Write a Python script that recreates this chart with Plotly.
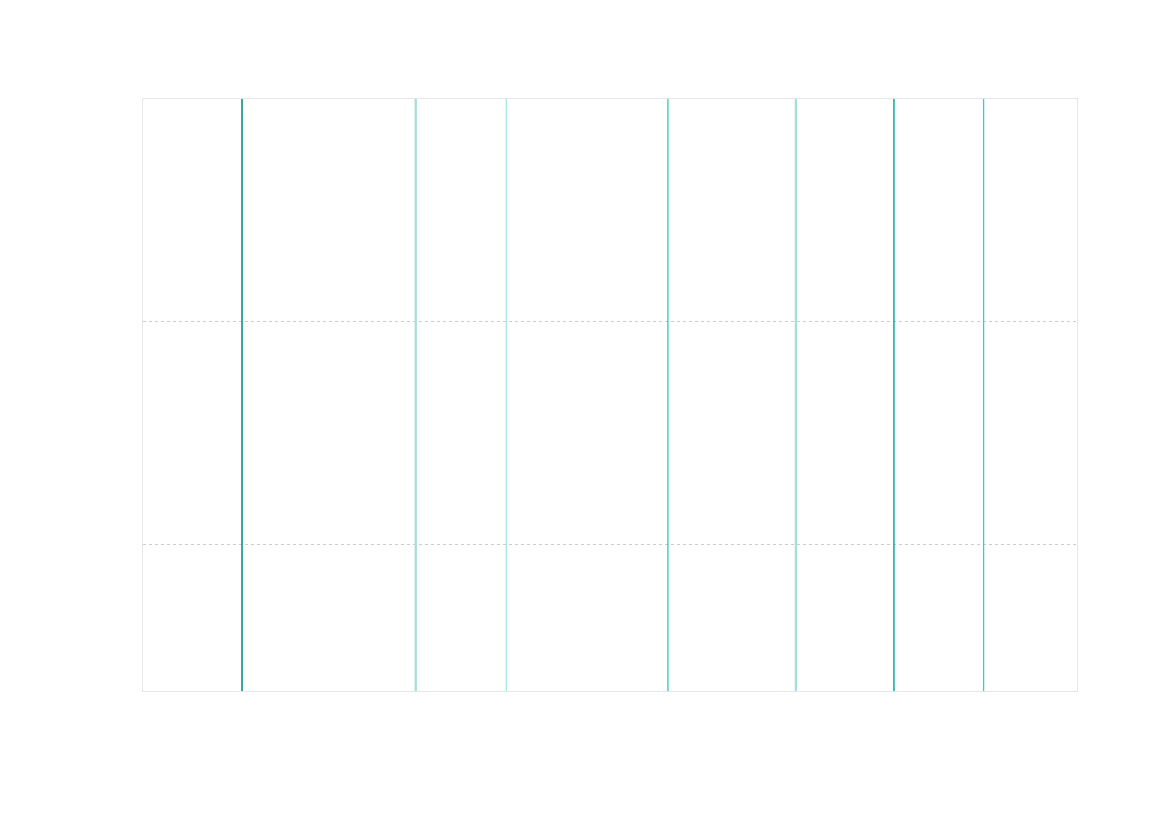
import plotly.graph_objects as go

# event positions along the x axis and their relative weight
event_x = [10.6, 29.2, 38.9, 56.2, 69.9, 80.4, 90.0]
event_weight = [1.3, 2.0, 1.0, 1.0, 2.0, 1.2, 1.0]
event_color = ['#0f8f8c', '#a6e0dc', '#a9e6e4', '#2ccabf', '#a6e0dc', '#00ad9f', '#36cdc2']

y_ticks = [1, 2]

fig = go.Figure()

for x, w, c in zip(event_x, event_weight, event_color):
    fig.add_vline(x=x, line=dict(color=c, width=w + 0.3))

# invisible trace so the axes exist
fig.add_trace(go.Scatter(x=[None], y=[None], mode='markers', showlegend=False))

fig.update_layout(
    width=1169, height=827,
    margin=dict(l=135, r=100, t=91, b=144),
    plot_bgcolor='white', paper_bgcolor='white',
    showlegend=False,
    xaxis=dict(range=[0, 100], showgrid=False, zeroline=False, showticklabels=False,
               showline=True, mirror=True, linecolor='#e6e6e6', linewidth=1, ticks=''),
    yaxis=dict(range=[0.341, 3], tickvals=y_ticks, showticklabels=False,
               showgrid=True, gridcolor='#cccccc', griddash='dot', gridwidth=1,
               zeroline=False, showline=True, mirror=True, linecolor='#e6e6e6',
               linewidth=1, ticks=''),
)

fig.write_html("out.html")
